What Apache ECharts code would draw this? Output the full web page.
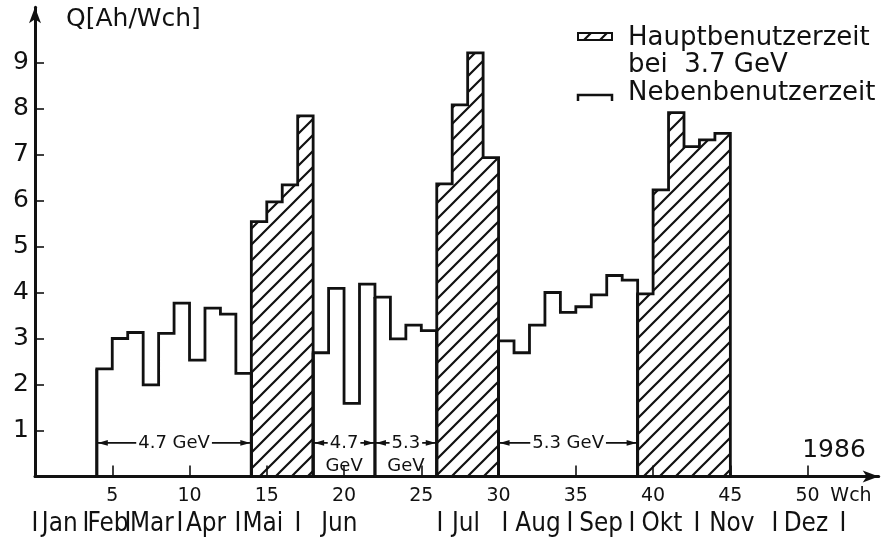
<!DOCTYPE html>
<html>
<head>
<meta charset="utf-8">
<script src="https://cdn.jsdelivr.net/npm/echarts@6/dist/echarts.min.js"></script>
<style>
  html, body { margin: 0; padding: 0; background: #fff; }
  #chart { width: 886px; height: 548px; }
</style>
</head>
<body>
<div id="chart"></div>
<script>
// Integrated charge per week, 1986 (each bin spans one week, starting at the given week)
const weeks = [4, 5, 6, 7, 8, 9, 10, 11, 12, 13,
               14, 15, 16, 17,
               18, 19, 20, 21, 22, 23, 24, 25,
               26, 27, 28, 29,
               30, 31, 32, 33, 34, 35, 36, 37, 38,
               39, 40, 41, 42, 43, 44];
const charge = [2.34, 3.00, 3.13, 1.99, 3.11, 3.77, 2.53, 3.66, 3.53, 2.24,
                5.54, 5.97, 6.34, 7.84,
                2.69, 4.09, 1.59, 4.18, 3.90, 2.99, 3.29, 3.17,
                6.36, 8.08, 9.21, 6.93,
                2.95, 2.69, 3.29, 4.00, 3.57, 3.69, 3.95, 4.37, 4.27,
                3.97, 6.23, 7.91, 7.17, 7.32, 7.46];
// 1 = Hauptbenutzerzeit (3.7 GeV), 0 = Nebenbenutzerzeit
const mainUse = [0, 0, 0, 0, 0, 0, 0, 0, 0, 0,
                 1, 1, 1, 1,
                 0, 0, 0, 0, 0, 0, 0, 0,
                 1, 1, 1, 1,
                 0, 0, 0, 0, 0, 0, 0, 0, 0,
                 1, 1, 1, 1, 1, 1];

// Beam energy periods during parasitic running
const periodStart = [4, 18, 22, 30];
const periodEnd = [14, 22, 26, 39];
const periodLabel = ['4.7 GeV', '4.7\nGeV', '5.3\nGeV', '5.3 GeV'];
const periodLevel = 0.73;

const weekTicks = [5, 10, 15, 20, 25, 30, 35, 40, 45, 50];
const chargeTicks = [1, 2, 3, 4, 5, 6, 7, 8, 9];
const months = ['Jan', 'Feb', 'Mar', 'Apr', 'Mai', 'Jun', 'Jul', 'Aug', 'Sep', 'Okt', 'Nov', 'Dez'];

const FONT = '"DejaVu Sans", "Noto Sans", sans-serif';
const INK = '#111';

// diagonal hatching used for the main-user periods
function makeHatch() {
  const s = 16;
  const c = document.createElement('canvas');
  c.width = s; c.height = s;
  const g = c.getContext('2d');
  g.strokeStyle = INK;
  g.lineWidth = 2.2;
  g.beginPath();
  g.moveTo(-2, s + 2); g.lineTo(s + 2, -2);
  g.moveTo(-2, 2); g.lineTo(2, -2);
  g.moveTo(s - 2, s + 2); g.lineTo(s + 2, s - 2);
  g.stroke();
  return c;
}
const hatch = { image: makeHatch(), repeat: 'repeat' };

// group consecutive weeks of the same running mode into blocks
const blocks = [];
for (let i = 0; i < weeks.length; i++) {
  const last = blocks[blocks.length - 1];
  if (last && last.main === mainUse[i] && weeks[i] === weeks[last.last] + 1) {
    last.last = i;
  } else {
    blocks.push({ first: i, last: i, main: mainUse[i] });
  }
}
const mainBlocks = blocks.filter(b => b.main === 1);
const sideBlocks = blocks.filter(b => b.main === 0);

function outline(b, api) {
  const pts = [api.coord([weeks[b.first], 0])];
  for (let i = b.first; i <= b.last; i++) {
    pts.push(api.coord([weeks[i], charge[i]]));
    pts.push(api.coord([weeks[i] + 1, charge[i]]));
  }
  pts.push(api.coord([weeks[b.last] + 1, 0]));
  return pts;
}

function edgeHeight(w) {
  const l = weeks.indexOf(w - 1), r = weeks.indexOf(w);
  const hs = [];
  if (l >= 0) hs.push(charge[l]);
  if (r >= 0) hs.push(charge[r]);
  return Math.min.apply(null, hs);
}

const chart = echarts.init(document.getElementById('chart'), null, { renderer: 'canvas' });

const option = {
  animation: false,
  backgroundColor: '#fff',
  grid: { left: 35, right: 7.3, top: 7.3, bottom: 71.5, containLabel: false, outerBoundsMode: 'none' },
  xAxis: {
    type: 'value', min: 0, max: 54.6, interval: 5,
    splitLine: { show: false },
    axisLine: { show: true, symbol: ['none', 'arrow'], symbolSize: [9, 16], lineStyle: { color: INK, width: 3 } },
    axisTick: { show: true, inside: true, length: 11, customValues: weekTicks, lineStyle: { color: INK, width: 1.6 } },
    axisLabel: { customValues: weekTicks, color: INK, fontSize: 19, fontFamily: FONT, margin: 10 }
  },
  yAxis: {
    type: 'value', min: 0, max: 10.2, interval: 1,
    splitLine: { show: false },
    axisLine: { show: true, symbol: ['none', 'arrow'], symbolSize: [9, 16], lineStyle: { color: INK, width: 3 } },
    axisTick: { show: true, inside: true, length: 9, customValues: chargeTicks, lineStyle: { color: INK, width: 1.6 } },
    axisLabel: { customValues: chargeTicks, color: INK, fontSize: 25, fontFamily: FONT, margin: 6 }
  },
  series: [
    {
      name: 'Nebenbenutzerzeit',
      type: 'custom',
      clip: false,
      data: sideBlocks.map((b, k) => [weeks[b.first], charge[b.first], k]),
      renderItem: function (params, api) {
        const b = sideBlocks[params.dataIndex];
        return {
          type: 'polyline',
          shape: { points: outline(b, api) },
          style: { fill: 'none', stroke: INK, lineWidth: 2.8, lineJoin: 'miter' }
        };
      }
    },
    {
      name: 'Hauptbenutzerzeit',
      type: 'custom',
      clip: false,
      data: mainBlocks.map((b, k) => [weeks[b.first], charge[b.first], k]),
      renderItem: function (params, api) {
        const b = mainBlocks[params.dataIndex];
        return {
          type: 'polygon',
          shape: { points: outline(b, api) },
          style: { fill: hatch, stroke: INK, lineWidth: 2.8, lineJoin: 'miter' }
        };
      }
    },
    {
      name: 'Energie',
      type: 'custom',
      clip: false,
      z: 5,
      data: periodStart.map((s, k) => [s, periodEnd[k], k]),
      renderItem: function (params, api) {
        const k = params.dataIndex;
        const s = periodStart[k], e = periodEnd[k];
        const a = api.coord([s, periodLevel]);
        const b = api.coord([e, periodLevel]);
        const y = a[1];
        const parts = periodLabel[k].split('\n');
        const mid = (a[0] + b[0]) / 2;
        const children = [];
        // period boundaries down to the axis
        [s, e].forEach(w => {
          const top = api.coord([w, edgeHeight(w)]);
          const bot = api.coord([w, 0]);
          children.push({ type: 'line', shape: { x1: top[0], y1: top[1], x2: bot[0], y2: bot[1] },
                          style: { stroke: INK, lineWidth: 2.8 } });
        });
        children.push({ type: 'line', shape: { x1: a[0], y1: y, x2: b[0], y2: y },
                        style: { stroke: INK, lineWidth: 1.8 } });
        // arrow heads pointing at the period limits
        const L = 11, H = 2.8;
        children.push({ type: 'polygon', shape: { points: [[a[0] + 1, y], [a[0] + L, y - H], [a[0] + L, y + H]] },
                        style: { fill: INK } });
        children.push({ type: 'polygon', shape: { points: [[b[0] - 1, y], [b[0] - L, y - H], [b[0] - L, y + H]] },
                        style: { fill: INK } });
        children.push({ type: 'text', x: mid, y: y, style: {
          text: parts[0], x: 0, y: 0, fill: INK, font: '18px ' + FONT,
          align: 'center', verticalAlign: 'middle', backgroundColor: '#fff', padding: [1, 2]
        } });
        if (parts[1]) {
          children.push({ type: 'text', x: mid, y: y + 23, style: {
            text: parts[1], x: 0, y: 0, fill: INK, font: '18px ' + FONT,
            align: 'center', verticalAlign: 'middle'
          } });
        }
        return { type: 'group', children: children };
      }
    }
  ]
};
chart.setOption(option);

// month row under the week axis (positions in weeks)
const monthSep = [0.0, 3.30, 6.02, 9.38, 13.14, 17.02, 26.2, 30.41, 34.62, 38.63, 42.84, 47.89, 52.29];
const monthMid = [1.6, 4.72, 7.57, 11.07, 14.75, 19.7, 27.89, 32.55, 36.63, 40.57, 45.10, 49.89];
const rowY = 524;
const px = w => chart.convertToPixel({ xAxisIndex: 0 }, w);
const graphics = [];
const rowText = (str, x) => ({
  type: 'text', x: x, y: rowY, scaleX: 0.86,
  style: { text: str, fill: INK, font: '27px ' + FONT, align: 'center', verticalAlign: 'middle' }
});
monthSep.forEach(w => graphics.push(rowText('I', px(w))));
months.forEach((m, i) => graphics.push(rowText(m, px(monthMid[i]))));

graphics.push(
  { type: 'text', x: 66, y: 19, style: { text: 'Q[Ah/Wch]', fill: INK, font: '25px ' + FONT, verticalAlign: 'middle' } },
  { type: 'text', x: 851, y: 496, style: { text: 'Wch', fill: INK, font: '19px ' + FONT, align: 'center', verticalAlign: 'middle' } },
  { type: 'text', x: 834, y: 450, style: { text: '1986', fill: INK, font: '25px ' + FONT, align: 'center', verticalAlign: 'middle' } },
  // legend
  { type: 'rect', shape: { x: 578, y: 33, width: 34, height: 7 }, style: { fill: hatch, stroke: INK, lineWidth: 2 } },
  { type: 'text', x: 628, y: 38, style: { text: 'Hauptbenutzerzeit', fill: INK, font: '26px ' + FONT, verticalAlign: 'middle' } },
  { type: 'text', x: 628, y: 65, style: { text: 'bei  3.7 GeV', fill: INK, font: '26px ' + FONT, verticalAlign: 'middle' } },
  { type: 'polyline', shape: { points: [[578, 101], [578, 95], [612, 95], [612, 101]] }, style: { fill: 'none', stroke: INK, lineWidth: 2.5 } },
  { type: 'text', x: 628, y: 93, style: { text: 'Nebenbenutzerzeit', fill: INK, font: '26px ' + FONT, verticalAlign: 'middle' } }
);
chart.setOption({ graphic: graphics });
</script>
</body>
</html>
